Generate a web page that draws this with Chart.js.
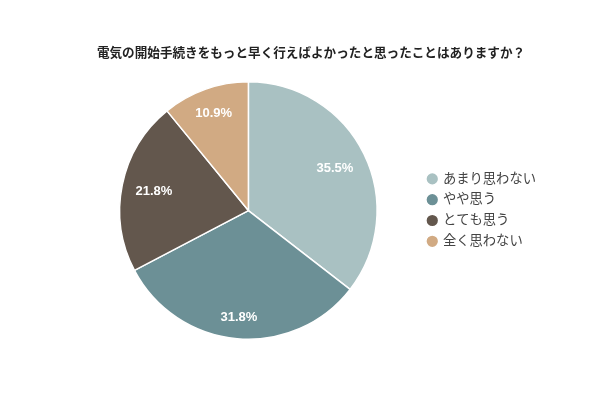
<!DOCTYPE html>
<html>
<head>
<meta charset="utf-8">
<script src="https://cdn.jsdelivr.net/npm/chart.js@4.4.1/dist/chart.umd.min.js"></script>
<style>
html,body{margin:0;padding:0;background:#fff;}
#wrap{width:600px;height:400px;}
</style>
</head>
<body>
<div id="wrap"><canvas id="c" width="600" height="400"></canvas></div>
<script>
const titleText = '電気の開始手続きをもっと早く行えばよかったと思ったことはありますか？';
const categories = ['あまり思わない', 'やや思う', 'とても思う', '全く思わない'];
const values = [35.5, 31.8, 21.8, 10.9];
const colors = ['#a9c1c2', '#6c9096', '#63574d', '#d1aa83'];
const FONT = "'Liberation Sans', 'Noto Sans CJK JP', sans-serif";

const labelPlugin = {
  id: 'sliceLabels',
  afterDatasetsDraw(chart) {
    const ctx = chart.ctx;
    const meta = chart.getDatasetMeta(0);
    ctx.save();
    ctx.fillStyle = '#ffffff';
    ctx.font = 'bold 13px ' + FONT;
    ctx.textAlign = 'center';
    ctx.textBaseline = 'middle';
    meta.data.forEach((arc, i) => {
      const p = arc.getProps(['x', 'y', 'startAngle', 'endAngle', 'outerRadius'], true);
      const mid = (p.startAngle + p.endAngle) / 2;
      const txt = values[i].toFixed(1) + '%';
      const w = ctx.measureText(txt).width;
      const c = Math.cos(mid), s = Math.sin(mid);
      const extent = (w / 2) * Math.abs(c) + 6.5 * Math.abs(s);
      const r = p.outerRadius * 0.9 - extent;
      ctx.fillText(txt, p.x + c * r, p.y + s * r);
    });
    ctx.restore();
  }
};

new Chart(document.getElementById('c'), {
  type: 'pie',
  data: {
    labels: categories,
    datasets: [{
      data: values,
      backgroundColor: colors,
      borderColor: '#ffffff',
      borderWidth: 1.5
    }]
  },
  options: {
    responsive: false,
    animation: false,
    layout: { padding: { top: 40, bottom: 60, left: 76, right: 54 } },
    plugins: {
      title: {
        display: true,
        text: titleText,
        color: '#222222',
        font: { family: FONT, size: 12.6, weight: 'bold' },
        padding: { top: 6, bottom: 20 }
      },
      legend: {
        position: 'right',
        align: 'center',
        title: {
          display: true,
          text: '',
          font: { size: 1 },
          padding: { top: 0, bottom: 39 }
        },
        labels: {
          usePointStyle: true,
          pointStyle: 'circle',
          boxWidth: 8,
          boxHeight: 9,
          padding: 7.5,
          color: '#444444',
          font: { family: FONT, size: 13.3 }
        }
      },
      tooltip: { enabled: false }
    }
  },
  plugins: [labelPlugin]
});
</script>
</body>
</html>
